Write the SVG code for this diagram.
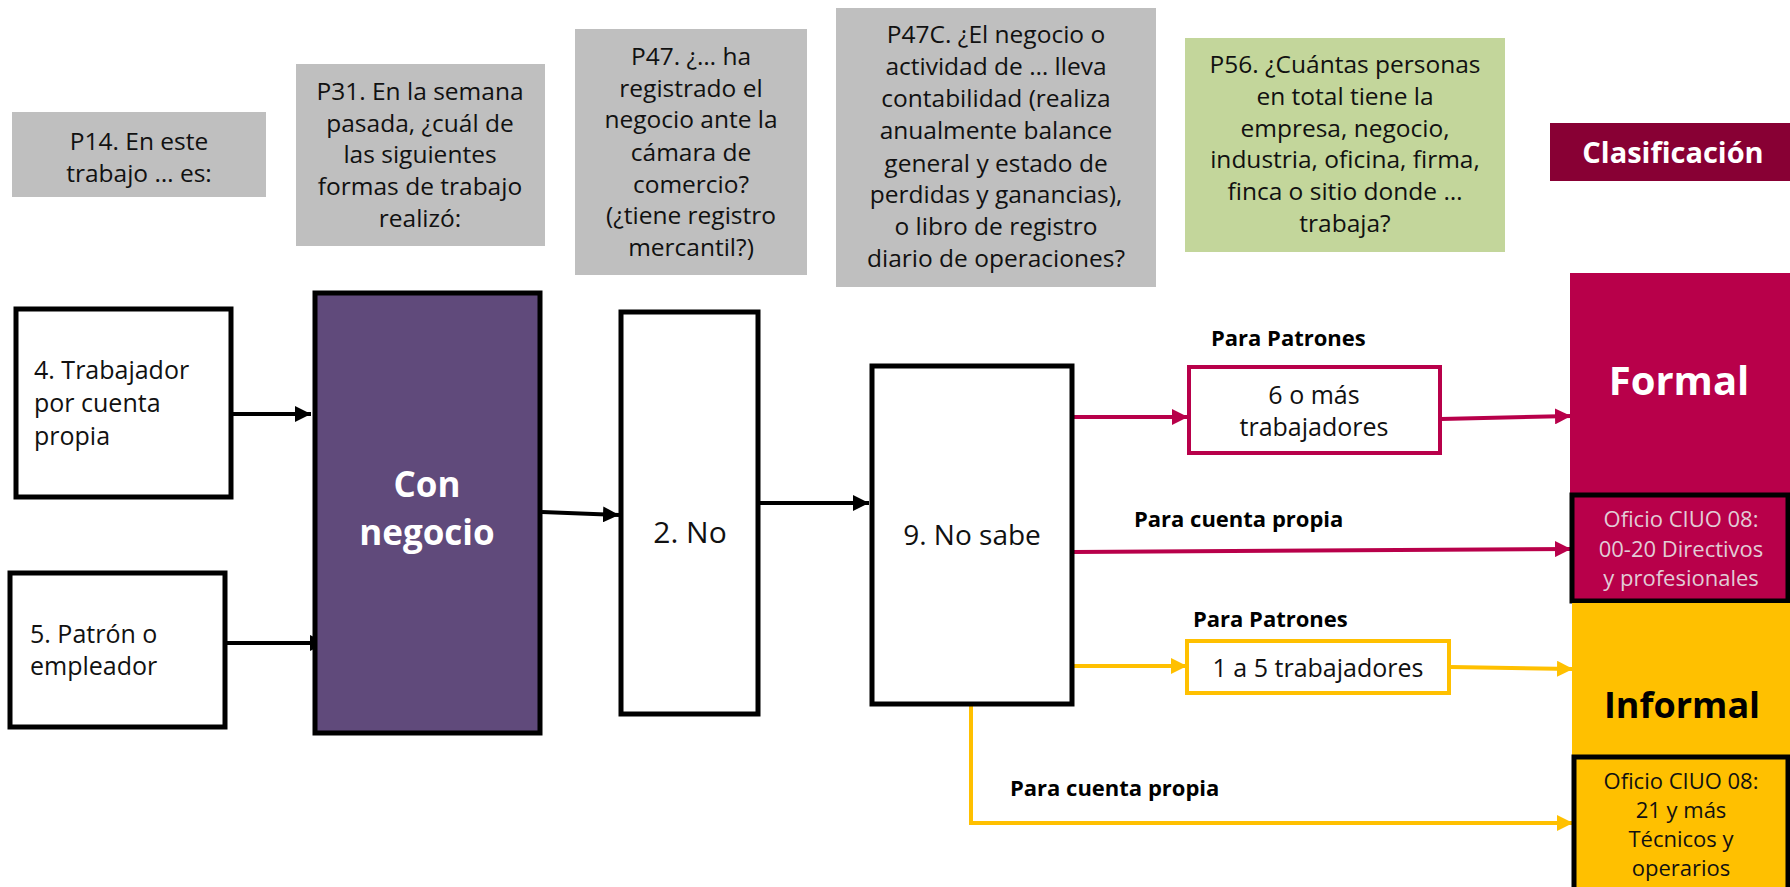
<svg xmlns="http://www.w3.org/2000/svg" width="1790" height="887" viewBox="0 0 1790 887">
<defs>
<style>
text{font-family:"Open Sans","Noto Sans","DejaVu Sans",sans-serif;}
.q{fill:#BFBFBF;}
.qg{fill:#C3D69B;}
.qt{font-size:24.5px;fill:#111;text-anchor:middle;}
.bx{fill:#fff;stroke:#000;stroke-width:5;}
.bt{font-size:25px;fill:#111;}
.lbl{font-size:22px;font-weight:bold;fill:#000;}
.ck{fill:none;stroke:#000;stroke-width:4;}
.cr{fill:none;stroke:#B8004A;stroke-width:4;}
.cy{fill:none;stroke:#FFC000;stroke-width:4;}
</style>
<marker id="ak" markerUnits="userSpaceOnUse" markerWidth="17" markerHeight="16" refX="16" refY="8" orient="auto"><path d="M0,0 L16,8 L0,16 z" fill="#000"/></marker>
<marker id="ar" markerUnits="userSpaceOnUse" markerWidth="17" markerHeight="16" refX="16" refY="8" orient="auto"><path d="M0,0 L16,8 L0,16 z" fill="#B8004A"/></marker>
<marker id="ay" markerUnits="userSpaceOnUse" markerWidth="17" markerHeight="16" refX="16" refY="8" orient="auto"><path d="M0,0 L16,8 L0,16 z" fill="#FFC000"/></marker>
</defs>
<rect width="1790" height="887" fill="#fff"/>

<g id="q-p14">
<rect class="q" x="12" y="112" width="254" height="85"/>
<text class="qt"><tspan x="139" y="150">P14. En este</tspan><tspan x="139" y="182">trabajo … es:</tspan></text>
</g>
<g id="q-p31">
<rect class="q" x="296" y="64" width="249" height="182"/>
<text class="qt"><tspan x="420" y="100">P31. En la semana</tspan><tspan x="420" y="132">pasada, ¿cuál de</tspan><tspan x="420" y="163">las siguientes</tspan><tspan x="420" y="195">formas de trabajo</tspan><tspan x="420" y="227">realizó:</tspan></text>
</g>
<g id="q-p47">
<rect class="q" x="575" y="29" width="232" height="246"/>
<text class="qt"><tspan x="691" y="65">P47. ¿… ha</tspan><tspan x="691" y="97">registrado el</tspan><tspan x="691" y="128">negocio ante la</tspan><tspan x="691" y="161">cámara de</tspan><tspan x="691" y="193">comercio?</tspan><tspan x="691" y="224">(¿tiene registro</tspan><tspan x="691" y="256">mercantil?)</tspan></text>
</g>
<g id="q-p47c">
<rect class="q" x="836" y="8" width="320" height="279"/>
<text class="qt"><tspan x="996" y="43">P47C. ¿El negocio o</tspan><tspan x="996" y="75">actividad de … lleva</tspan><tspan x="996" y="107">contabilidad (realiza</tspan><tspan x="996" y="139">anualmente balance</tspan><tspan x="996" y="172">general y estado de</tspan><tspan x="996" y="203">perdidas y ganancias),</tspan><tspan x="996" y="235">o libro de registro</tspan><tspan x="996" y="267">diario de operaciones?</tspan></text>
</g>
<g id="q-p56">
<rect class="qg" x="1185" y="38" width="320" height="214"/>
<text class="qt"><tspan x="1345" y="73">P56. ¿Cuántas personas</tspan><tspan x="1345" y="105">en total tiene la</tspan><tspan x="1345" y="137">empresa, negocio,</tspan><tspan x="1345" y="168">industria, oficina, firma,</tspan><tspan x="1345" y="200">finca o sitio donde …</tspan><tspan x="1345" y="232">trabaja?</tspan></text>
</g>
<g id="clasificacion">
<rect x="1550" y="123" width="240" height="58" fill="#880034"/>
<text x="1673" y="163" font-size="29" font-weight="bold" fill="#fff" text-anchor="middle">Clasificación</text>
</g>

<g id="connectors">
<line class="ck" x1="233" y1="414" x2="311" y2="414" marker-end="url(#ak)"/>
<line class="ck" x1="227" y1="643" x2="326" y2="643" marker-end="url(#ak)"/>
<line class="ck" x1="542" y1="512" x2="619" y2="515" marker-end="url(#ak)"/>
<line class="ck" x1="760" y1="503" x2="869" y2="503" marker-end="url(#ak)"/>
<line class="cr" x1="1074" y1="417" x2="1188" y2="417" marker-end="url(#ar)"/>
<line class="cr" x1="1441" y1="419" x2="1571" y2="416" marker-end="url(#ar)"/>
<line class="cr" x1="1074" y1="552" x2="1571" y2="549" marker-end="url(#ar)"/>
<line class="cy" x1="1074" y1="666" x2="1187" y2="666" marker-end="url(#ay)"/>
<line class="cy" x1="1451" y1="667" x2="1573" y2="669" marker-end="url(#ay)"/>
<path class="cy" d="M971,706 V823 H1573" marker-end="url(#ay)"/>
</g>

<g id="n-trabajador">
<rect class="bx" x="16" y="309" width="215" height="188"/>
<text class="bt"><tspan x="34" y="379">4. Trabajador</tspan><tspan x="34" y="412">por cuenta</tspan><tspan x="34" y="445">propia</tspan></text>
</g>
<g id="n-patron">
<rect class="bx" x="10" y="573" width="215" height="154"/>
<text class="bt"><tspan x="30" y="643">5. Patrón o</tspan><tspan x="30" y="675">empleador</tspan></text>
</g>
<g id="n-con-negocio">
<rect x="315" y="293" width="225" height="440" fill="#604A7B" stroke="#000" stroke-width="5"/>
<text x="427" y="497" font-size="35" font-weight="bold" fill="#fff" text-anchor="middle">Con</text>
<text x="427" y="545" font-size="35" font-weight="bold" fill="#fff" text-anchor="middle">negocio</text>
</g>
<g id="n-no">
<rect class="bx" x="621" y="312" width="137" height="402"/>
<text x="690" y="543" font-size="30" fill="#111" text-anchor="middle">2. No</text>
</g>
<g id="n-no-sabe">
<rect class="bx" x="872" y="366" width="200" height="338"/>
<text x="972" y="545" font-size="28" fill="#111" text-anchor="middle">9. No sabe</text>
</g>

<g id="l-patrones-1"><text class="lbl" x="1211" y="346">Para Patrones</text></g>
<g id="n-6omas">
<rect x="1189" y="367" width="251" height="86" fill="#fff" stroke="#B8004A" stroke-width="4"/>
<text class="bt" text-anchor="middle"><tspan x="1314" y="404">6 o más</tspan><tspan x="1314" y="436">trabajadores</tspan></text>
</g>
<g id="l-cuenta-1"><text class="lbl" x="1134" y="527">Para cuenta propia</text></g>
<g id="l-patrones-2"><text class="lbl" x="1193" y="627">Para Patrones</text></g>
<g id="n-1a5">
<rect x="1187" y="641" width="262" height="52" fill="#fff" stroke="#FFC000" stroke-width="4"/>
<text class="bt" x="1318" y="677" text-anchor="middle">1 a 5 trabajadores</text>
</g>
<g id="l-cuenta-2"><text class="lbl" x="1010" y="796">Para cuenta propia</text></g>

<g id="n-formal">
<rect x="1570" y="273" width="220" height="220" fill="#B8004A"/>
<text x="1679" y="395" font-size="40" font-weight="bold" fill="#fff" text-anchor="middle">Formal</text>
</g>
<g id="n-oficio-formal">
<rect x="1572" y="495" width="216" height="106" fill="#B8004A" stroke="#000" stroke-width="5"/>
<text font-size="22" fill="#E2CCD6" text-anchor="middle"><tspan x="1681" y="527">Oficio CIUO 08:</tspan><tspan x="1681" y="557">00-20 Directivos</tspan><tspan x="1681" y="586">y profesionales</tspan></text>
</g>
<g id="n-informal">
<rect x="1572" y="603" width="218" height="152" fill="#FFC000"/>
<text x="1682" y="718" font-size="36" font-weight="bold" fill="#000" text-anchor="middle">Informal</text>
</g>
<g id="n-oficio-informal">
<rect x="1574" y="757" width="214" height="140" fill="#FFC000" stroke="#000" stroke-width="5"/>
<text font-size="22" fill="#111" text-anchor="middle"><tspan x="1681" y="789">Oficio CIUO 08:</tspan><tspan x="1681" y="818">21 y más</tspan><tspan x="1681" y="847">Técnicos y</tspan><tspan x="1681" y="876">operarios</tspan></text>
</g>
</svg>
